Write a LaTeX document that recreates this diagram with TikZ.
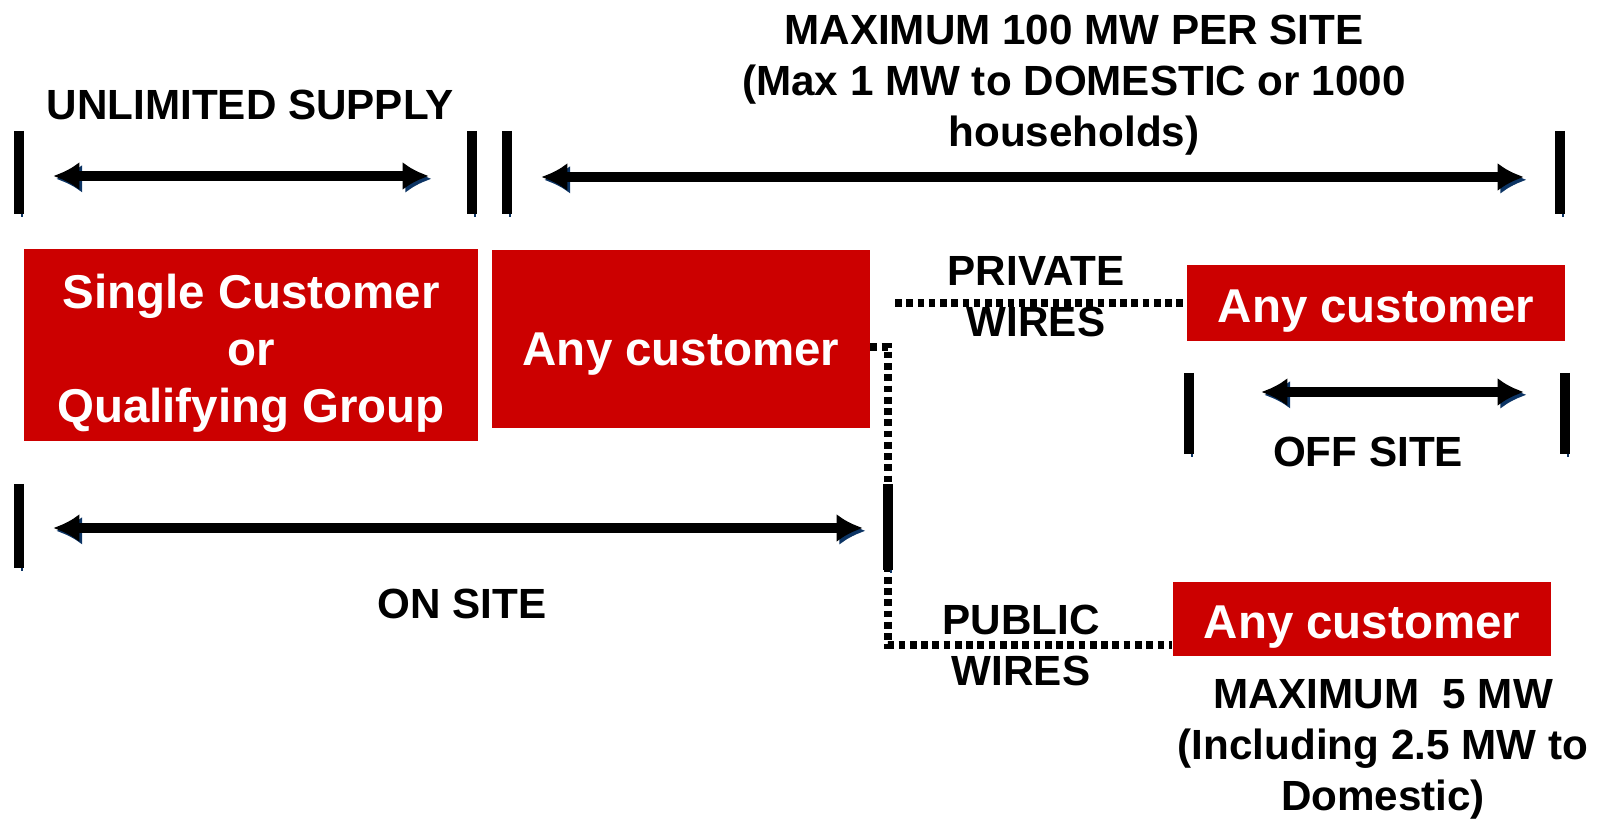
\documentclass[tikz,border=0pt]{standalone}
\usepackage{fontspec}
\setmainfont{Liberation Sans}
\usetikzlibrary{arrows.meta}
\definecolor{boxred}{RGB}{204,0,0}
\definecolor{shadowblue}{RGB}{12,52,100}
\newcommand{\boxfont}{\fontsize{13.5}{16.2}\selectfont\bfseries}
\newcommand{\lblfont}{\fontsize{12}{14.5}\selectfont\bfseries}
\tikzset{
  shadowed/.style={preaction={draw=shadowblue,transform canvas={shift={(0.8pt,-0.8pt)}}}},
  bar/.style={shadowed,line width=3.1pt},
  span/.style={shadowed,line width=2.6pt,{Latex[length=7.5pt,width=8pt]}-{Latex[length=7.5pt,width=8pt]}},
  wire/.style={line width=2.1pt,dash pattern=on 1.9pt off 1.3pt},
  redbox/.style={fill=boxred,text=white,font=\boxfont,align=center,inner sep=0pt},
  lbl/.style={font=\lblfont,align=center,inner sep=0pt}
}
\begin{document}
\begin{tikzpicture}[x=0.01cm,y=-0.01cm]
\useasboundingbox (0,0) rectangle (1601,819);

% boxes
\node[redbox,minimum width=4.54cm,minimum height=1.92cm,text height=46.7pt,text depth=2.8pt] (single) at (251,345) {Single Customer\\or\\Qualifying Group};
\node[redbox,minimum width=3.77cm,minimum height=1.77cm,text height=17.9pt,text depth=2.8pt] (anyon) at (681,339) {Any customer};
\node[redbox,minimum width=3.78cm,minimum height=0.76cm,text height=13.9pt,text depth=2.8pt] (anypriv) at (1376,303) {Any customer};
\node[redbox,minimum width=3.78cm,minimum height=0.74cm,text height=13.9pt,text depth=2.8pt] (anypub) at (1362,619) {Any customer};

% wires
\coordinate (privstart) at (895,303);
\coordinate (tap) at (888,347);
\coordinate (corner) at (888,645);
\draw[wire] (privstart) -- (anypriv.west);
\draw[wire] (anyon.east |- tap) -- (tap) -- (corner) -- (corner -| anypub.west);

% bars
\foreach \x/\yt/\yb in {19/131/214, 472/131/214, 507/131/214, 1560/131/214,
                        19/484/568, 888/484/570, 1189/373/454, 1565/373/454}
  \draw[bar] (\x,\yt) -- (\x,\yb);

% spans
\coordinate (unlA) at (53,176);
\coordinate (unlB) at (429,176);
\coordinate (maxA) at (541,177);
\coordinate (maxB) at (1524,177);
\coordinate (onA) at (53,528);
\coordinate (onB) at (863,528);
\coordinate (offA) at (1261,392);
\coordinate (offB) at (1524,392);
\draw[span] (unlA) -- (unlB);
\draw[span] (maxA) -- (maxB);
\draw[span] (onA) -- (onB);
\draw[span] (offA) -- (offB);

% labels
\node[lbl] (unlimited) at (250,105) {UNLIMITED SUPPLY};
\node[lbl] (maxsite) at (1074,85) {MAXIMUM 100 MW PER SITE\\(Max 1 MW to DOMESTIC or 1000\\households)};
\node[lbl] (private) at (1036,297) {PRIVATE\\WIRES};
\node[lbl] (public) at (1021,645) {PUBLIC\\WIRES};
\node[lbl] (onsite) at (462,604) {ON SITE};
\node[lbl] (offsite) at (1368,452) {OFF SITE};
\node[lbl] (max5) at (1383,749) {MAXIMUM\ \ 5 MW\\(Including 2.5 MW to\\Domestic)};

\end{tikzpicture}
\end{document}
